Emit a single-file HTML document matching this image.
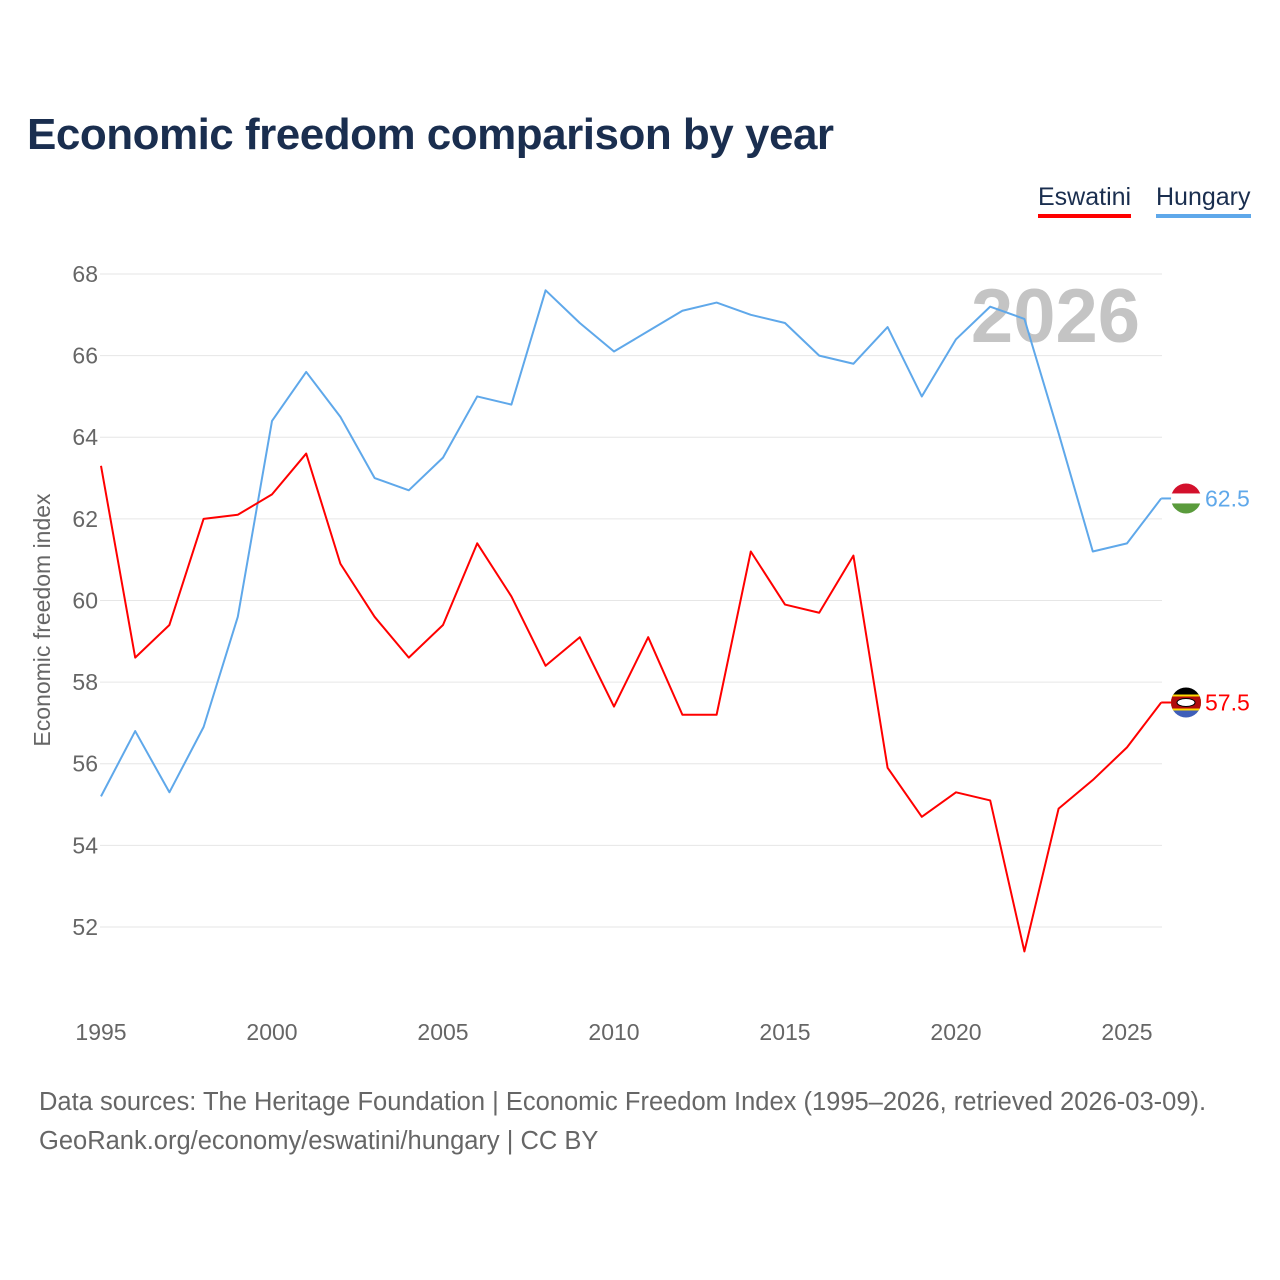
<!DOCTYPE html>
<html><head><meta charset="utf-8">
<style>
html,body{margin:0;padding:0;background:#fff;}
body{width:1280px;height:1280px;position:relative;font-family:"Liberation Sans",sans-serif;overflow:hidden;}
#title{position:absolute;left:27px;top:110px;font-size:44px;font-weight:bold;color:#1a2e4f;letter-spacing:-0.5px;}
.leg{position:absolute;top:183px;font-size:25px;color:#1a2e4f;padding-bottom:2px;}
#foot{position:absolute;left:39px;top:1083px;font-size:25.5px;color:#666;line-height:39px;}
</style></head><body>
<div id="title">Economic freedom comparison by year</div>
<div class="leg" style="left:1038px;border-bottom:4px solid #ff0000">Eswatini</div>
<div class="leg" style="left:1156px;border-bottom:4px solid #5fa8ea">Hungary</div>
<svg id="chart" width="1280" height="1280" style="position:absolute;left:0;top:0"></svg>
<div id="foot">Data sources: The Heritage Foundation | Economic Freedom Index (1995–2026, retrieved 2026-03-09).<br>GeoRank.org/economy/eswatini/hungary | CC BY</div>
<script>
const years=[1995,1996,1997,1998,1999,2000,2001,2002,2003,2004,2005,2006,2007,2008,2009,2010,2011,2012,2013,2014,2015,2016,2017,2018,2019,2020,2021,2022,2023,2024,2025,2026];
const hungary=[55.2,56.8,55.3,56.9,59.6,64.4,65.6,64.5,63.0,62.7,63.5,65.0,64.8,67.6,66.8,66.1,66.6,67.1,67.3,67.0,66.8,66.0,65.8,66.7,65.0,66.4,67.2,66.9,64.1,61.2,61.4,62.5];
const eswatini=[63.3,58.6,59.4,62.0,62.1,62.6,63.6,60.9,59.6,58.6,59.4,61.4,60.1,58.4,59.1,57.4,59.1,57.2,57.2,61.2,59.9,59.7,61.1,55.9,54.7,55.3,55.1,51.4,54.9,55.6,56.4,57.5];
const yTicks=[52,54,56,58,60,62,64,66,68];
const xTicks=[1995,2000,2005,2010,2015,2020,2025];
const NS="http://www.w3.org/2000/svg";
const svg=document.getElementById('chart');
const x=v=>101+(v-1995)*34.2;
const y=v=>274+(68-v)*40.81;
function el(t,a,txt){const e=document.createElementNS(NS,t);for(const k in a)e.setAttribute(k,a[k]);if(txt!==undefined)e.textContent=txt;svg.appendChild(e);return e;}
yTicks.forEach(t=>{
 const g=el('line',{x1:100,x2:1162,y1:y(t),y2:y(t),stroke:'#e6e6e6','stroke-width':1});
 
 
 const l=el('text',{x:98,y:y(t)+8,'text-anchor':'end','font-size':23,fill:'#666','font-family':'Liberation Sans'},t);
 
 
});
xTicks.forEach(t=>{
 const l=el('text',{x:x(t),y:1040,'text-anchor':'middle','font-size':23,fill:'#666','font-family':'Liberation Sans'},t);
 
 
});
const yt=el('text',{transform:'translate(50,620) rotate(-90)','text-anchor':'middle','font-size':23,fill:'#666','font-family':'Liberation Sans'},'Economic freedom index');


const yr=el('text',{x:1140,y:342,'text-anchor':'end','font-size':76,'font-weight':'bold',fill:'#c4c4c4','font-family':'Liberation Sans'},'2026');


function series(data,color,name){
 const p=el('polyline',{points:data.map((v,i)=>x(years[i])+','+y(v)).join(' '),fill:'none',stroke:color,'stroke-width':2,'stroke-linejoin':'round'});
 
 
 const last=data[data.length-1],ly=y(last);
 el('line',{x1:x(2026),x2:1176,y1:ly,y2:ly,stroke:color,'stroke-width':2});
 const lab=el('text',{x:1205,y:ly+8,'font-size':23,fill:color,'font-family':'Liberation Sans'},last.toFixed(1));
 
 
 return ly;
}
const hy=series(hungary,'#5fa8ea','hungary');
const ey=series(eswatini,'#ff0000','eswatini');
const cx=1186;
const mk=(id,cy)=>{const cp=document.createElementNS(NS,'clipPath');cp.setAttribute('id',id);const c=document.createElementNS(NS,'circle');c.setAttribute('cx',cx);c.setAttribute('cy',cy);c.setAttribute('r',15);cp.appendChild(c);svg.appendChild(cp);};
mk('ch',hy);mk('ce',ey);
const f1=el('g',{'clip-path':'url(#ch)'});


[['#d3102c',-15],['#ffffff',-5],['#5a9b3c',5]].forEach(([c,o])=>{const r=document.createElementNS(NS,'rect');r.setAttribute('x',cx-15);r.setAttribute('y',hy+o);r.setAttribute('width',30);r.setAttribute('height',10.5);r.setAttribute('fill',c);f1.appendChild(r);});
const f2=el('g',{'clip-path':'url(#ce)'});


[['#000000',-15,15],['#3e5eb9',0,15],['#ffd900',-8,16],['#b10c0c',-6,12]].forEach(([c,o,h])=>{const r=document.createElementNS(NS,'rect');r.setAttribute('x',cx-15);r.setAttribute('y',ey+o);r.setAttribute('width',30);r.setAttribute('height',h);r.setAttribute('fill',c);f2.appendChild(r);});
const e=document.createElementNS(NS,'ellipse');e.setAttribute('cx',cx);e.setAttribute('cy',ey);e.setAttribute('rx',9);e.setAttribute('ry',4);e.setAttribute('fill','#fff');e.setAttribute('stroke','#000');f2.appendChild(e);
</script>
</body></html>
